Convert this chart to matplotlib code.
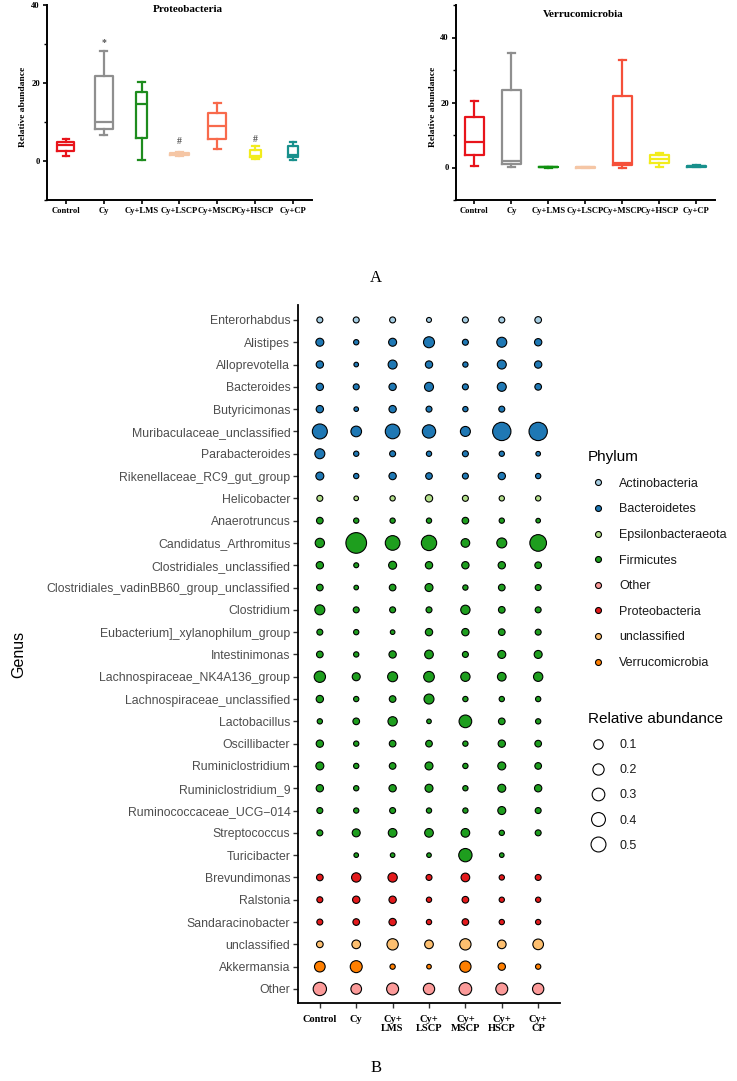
import numpy as np
import matplotlib
matplotlib.use('Agg')
import matplotlib.pyplot as plt
from matplotlib.lines import Line2D
from matplotlib.ticker import MultipleLocator

# ---- panel A : box plots ----
groups = ['Control', 'Cy', 'Cy+LMS', 'Cy+LSCP', 'Cy+MSCP', 'Cy+HSCP', 'Cy+CP']

proteo_lo = [1.3, 6.7, 0.3, 1.4, 3.2, 0.5, 0.3]
proteo_q1 = [2.5, 8.2, 5.8, 1.5, 5.6, 0.9, 0.9]
proteo_med = [4.0, 10.0, 14.6, 1.7, 9.0, 1.4, 1.5]
proteo_q3 = [4.9, 21.8, 17.8, 2.0, 12.4, 2.7, 3.8]
proteo_hi = [5.6, 28.2, 20.3, 2.2, 14.8, 3.8, 5.0]
proteo_mark = ['', '*', '', '#', '', '#', '']
proteo_mark_y = [0, 30.5, 0, 5.0, 0, 5.6, 0]

verruco_lo = [0.5, 0.3, 0.0, 0.0, 0.0, 0.3, 0.1]
verruco_q1 = [3.7, 1.0, 0.05, 0.0, 0.7, 1.3, 0.2]
verruco_med = [7.9, 2.0, 0.1, 0.02, 1.5, 2.6, 0.4]
verruco_q3 = [15.6, 23.8, 0.2, 0.05, 22.1, 3.7, 0.6]
verruco_hi = [20.5, 35.2, 0.3, 0.1, 33.0, 4.6, 0.9]

box_colors_p = ['#e8141b', '#8f8f8f', '#1e8c1e', '#f5c6a5', '#f86a4c', '#f2ec1c', '#18908c']
box_colors_v = ['#e8141b', '#8f8f8f', '#109010', '#f5c6a5', '#f5503a', '#f2ec1c', '#18908c']
box_w_p = [0.45, 0.47, 0.3, 0.5, 0.47, 0.3, 0.25]

# ---- panel B : dot plot ----
genera = ['Enterorhabdus', 'Alistipes', 'Alloprevotella', 'Bacteroides', 'Butyricimonas',
          'Muribaculaceae_unclassified', 'Parabacteroides', 'Rikenellaceae_RC9_gut_group',
          'Helicobacter', 'Anaerotruncus', 'Candidatus_Arthromitus', 'Clostridiales_unclassified',
          'Clostridiales_vadinBB60_group_unclassified', 'Clostridium',
          'Eubacterium]_xylanophilum_group', 'Intestinimonas', 'Lachnospiraceae_NK4A136_group',
          'Lachnospiraceae_unclassified', 'Lactobacillus', 'Oscillibacter', 'Ruminiclostridium',
          'Ruminiclostridium_9', 'Ruminococcaceae_UCG\u2212014', 'Streptococcus', 'Turicibacter',
          'Brevundimonas', 'Ralstonia', 'Sandaracinobacter', 'unclassified', 'Akkermansia', 'Other']
genus_phylum = ['Actinobacteria'] + ['Bacteroidetes'] * 7 + ['Epsilonbacteraeota'] + \
               ['Firmicutes'] * 16 + ['Proteobacteria'] * 3 + ['unclassified', 'Verrucomicrobia', 'Other']
nan = np.nan
abund = [
    [0.042, 0.042, 0.042, 0.029, 0.042, 0.042, 0.052],
    [0.075, 0.033, 0.075, 0.142, 0.042, 0.117, 0.063],
    [0.063, 0.025, 0.095, 0.063, 0.033, 0.095, 0.063],
    [0.063, 0.042, 0.063, 0.095, 0.042, 0.095, 0.052],
    [0.063, 0.025, 0.063, 0.042, 0.033, 0.042, nan],
    [0.263, 0.133, 0.252, 0.208, 0.117, 0.393, 0.393],
    [0.117, 0.033, 0.042, 0.033, 0.042, 0.033, 0.025],
    [0.075, 0.033, 0.063, 0.052, 0.042, 0.063, 0.033],
    [0.042, 0.025, 0.033, 0.063, 0.042, 0.033, 0.033],
    [0.052, 0.033, 0.033, 0.033, 0.052, 0.033, 0.025],
    [0.102, 0.500, 0.252, 0.275, 0.088, 0.117, 0.325],
    [0.063, 0.029, 0.075, 0.063, 0.063, 0.063, 0.052],
    [0.052, 0.025, 0.052, 0.075, 0.033, 0.052, 0.042],
    [0.117, 0.042, 0.042, 0.042, 0.102, 0.052, 0.042],
    [0.042, 0.033, 0.025, 0.063, 0.063, 0.052, 0.042],
    [0.052, 0.033, 0.063, 0.088, 0.042, 0.075, 0.075],
    [0.150, 0.075, 0.117, 0.133, 0.102, 0.088, 0.102],
    [0.063, 0.033, 0.052, 0.117, 0.033, 0.033, 0.033],
    [0.033, 0.052, 0.102, 0.025, 0.188, 0.052, 0.033],
    [0.063, 0.033, 0.052, 0.052, 0.033, 0.063, 0.052],
    [0.075, 0.033, 0.052, 0.075, 0.033, 0.075, 0.052],
    [0.063, 0.033, 0.063, 0.075, 0.033, 0.075, 0.063],
    [0.042, 0.033, 0.042, 0.033, 0.033, 0.075, 0.042],
    [0.042, 0.075, 0.088, 0.088, 0.088, 0.033, 0.042],
    [nan, 0.025, 0.025, 0.025, 0.208, 0.025, nan],
    [0.052, 0.102, 0.102, 0.042, 0.088, 0.033, 0.042],
    [0.042, 0.063, 0.063, 0.033, 0.052, 0.033, 0.033],
    [0.042, 0.052, 0.063, 0.033, 0.052, 0.033, 0.033],
    [0.052, 0.088, 0.150, 0.088, 0.150, 0.088, 0.133],
    [0.133, 0.168, 0.033, 0.025, 0.150, 0.063, 0.033],
    [0.208, 0.133, 0.168, 0.150, 0.188, 0.168, 0.150],
]
dot_groups = ['Control', 'Cy', 'Cy+\nLMS', 'Cy+\nLSCP', 'Cy+\nMSCP', 'Cy+\nHSCP', 'Cy+\nCP']
phyla = ['Actinobacteria', 'Bacteroidetes', 'Epsilonbacteraeota', 'Firmicutes',
         'Other', 'Proteobacteria', 'unclassified', 'Verrucomicrobia']
phylum_colors = ['#a6cee3', '#1f78b4', '#b2df8a', '#1e9e1e',
                 '#fb9a99', '#e31a1c', '#fdbf6f', '#ff7f00']
legend_sizes = [0.1, 0.2, 0.3, 0.4, 0.5]

SERIF = 'Liberation Serif'
SANS = 'Liberation Sans'

fig = plt.figure(figsize=(7.37, 10.81), dpi=100)


def box_panel(rect, title, title_xy, lo, q1, med, q3, hi, colors, widths, ylim):
    ax = fig.add_axes(rect)
    for i in range(len(groups)):
        st = [dict(whislo=lo[i], q1=q1[i], med=med[i], q3=q3[i], whishi=hi[i])]
        c = colors[i]
        ax.bxp(st, positions=[i + 1], widths=widths[i], capwidths=0.18, showfliers=False,
               boxprops=dict(color=c, linewidth=1.6),
               whiskerprops=dict(color=c, linewidth=1.6),
               capprops=dict(color=c, linewidth=1.6),
               medianprops=dict(color=c, linewidth=1.6))
    ax.set_xlim(0.5, 7.5)
    ax.set_ylim(*ylim)
    ax.yaxis.set_major_locator(MultipleLocator(20))
    ax.yaxis.set_minor_locator(MultipleLocator(10))
    ax.set_xticks(range(1, 8))
    ax.set_xticklabels(groups, fontfamily=SERIF, fontweight='bold', fontsize=6.2)
    for lab in ax.get_yticklabels():
        lab.set_fontfamily(SERIF)
        lab.set_fontweight('bold')
        lab.set_fontsize(6.2)
    for s in ['top', 'right']:
        ax.spines[s].set_visible(False)
    for s in ['left', 'bottom']:
        ax.spines[s].set_linewidth(1.4)
    ax.tick_params(which='major', length=3, width=1.2, pad=2)
    ax.tick_params(which='minor', length=2, width=1.0)
    ax.tick_params(axis='x', which='minor', length=0)
    ax.set_ylabel('Relative abundance', fontfamily=SERIF, fontweight='bold', fontsize=6.8)
    ax.yaxis.set_label_coords(-0.074, 0.48)
    ax.text(title_xy[0], title_xy[1], title, transform=ax.transAxes, ha='center', va='center',
            fontfamily=SERIF, fontweight='bold', fontsize=8)
    return ax


axp = box_panel([47 / 737, 1 - 200 / 1081, 265 / 737, 195 / 1081], 'Proteobacteria', (0.53, 0.975),
                proteo_lo, proteo_q1, proteo_med, proteo_q3, proteo_hi, box_colors_p, box_w_p, (-10, 40))
for i, m in enumerate(proteo_mark):
    if m:
        axp.text(i + 1, proteo_mark_y[i], m, ha='center', va='center', fontsize=7,
                 fontfamily=SERIF, fontweight='bold', color='#555555')

axv = box_panel([456 / 737, 1 - 200 / 1081, 259 / 737, 195 / 1081], 'Verrucomicrobia', (0.49, 0.95),
                verruco_lo, verruco_q1, verruco_med, verruco_q3, verruco_hi, box_colors_v,
                [0.52] * 7, (-10, 50))

fig.text(376 / 737, 1 - 278 / 1081, 'A', fontfamily=SERIF, fontsize=12, ha='center', va='center')
fig.text(376 / 737, 1 - 1068 / 1081, 'B', fontfamily=SERIF, fontsize=12, ha='center', va='center')

# ---- dot plot ----
axb = fig.add_axes([298 / 737, 1 - 1003 / 1081, 262 / 737, 698 / 1081])
n = len(genera)
cmap = dict(zip(phyla, phylum_colors))
vals = np.array(abund, dtype=float)
xs, ys, ss, cs = [], [], [], []
for i in range(n):
    for j in range(len(dot_groups)):
        v = vals[i, j]
        if np.isnan(v):
            continue
        xs.append(j)
        ys.append(n - 1 - i)
        ss.append(442 * v)
        cs.append(cmap[genus_phylum[i]])
axb.scatter(xs, ys, s=ss, c=cs, edgecolors='black', linewidths=0.8, zorder=3)
axb.set_xlim(-0.6, 6.6)
axb.set_ylim(-0.63, n - 1 + 0.67)
axb.set_yticks(range(n))
axb.set_yticklabels(genera[::-1], fontfamily=SANS, fontsize=8.8, color='#4d4d4d')
axb.set_xticks(range(len(dot_groups)))
axb.set_xticklabels(dot_groups, fontfamily=SERIF, fontweight='bold', fontsize=7.5, linespacing=1.0)
for s in ['top', 'right']:
    axb.spines[s].set_visible(False)
for s in ['left', 'bottom']:
    axb.spines[s].set_linewidth(1.3)
axb.tick_params(length=3.5, width=1.0, color='#333333', pad=2)
axb.tick_params(axis='x', pad=5)
axb.set_ylabel('Genus', fontfamily=SANS, fontsize=11.5)
axb.yaxis.set_label_coords(-1.038, 0.5)

# phylum legend
ph_handles = [Line2D([], [], marker='o', linestyle='', markerfacecolor=c, markeredgecolor='black',
                     markeredgewidth=0.8, markersize=4.3) for c in phylum_colors]
leg1 = fig.legend(ph_handles, phyla, loc='upper left', bbox_to_anchor=(583 / 737, 1 - 445 / 1081),
                  frameon=False, title='Phylum', title_fontsize=11, alignment='left',
                  prop=dict(family=SANS, size=9), labelspacing=1.09, handlelength=1.6,
                  handletextpad=0.9, borderpad=0.4, borderaxespad=0)
leg1.get_title().set_fontfamily(SANS)
for t in leg1.get_texts():
    t.set_color('#1a1a1a')

sz_handles = [Line2D([], [], marker='o', linestyle='', markerfacecolor='white', markeredgecolor='black',
                     markeredgewidth=0.8, markersize=0.72 * (5 + 14 * np.sqrt(v))) for v in legend_sizes]
leg2 = fig.legend(sz_handles, [str(v) for v in legend_sizes], loc='upper left',
                  bbox_to_anchor=(583 / 737, 1 - 707 / 1081), frameon=False,
                  title='Relative abundance', title_fontsize=11, alignment='left',
                  prop=dict(family=SANS, size=9), labelspacing=1.05, handlelength=1.6,
                  handletextpad=0.9, borderpad=0.4, borderaxespad=0)
leg2.get_title().set_fontfamily(SANS)
for t in leg2.get_texts():
    t.set_color('#1a1a1a')

fig.savefig('out.png', dpi=100)
